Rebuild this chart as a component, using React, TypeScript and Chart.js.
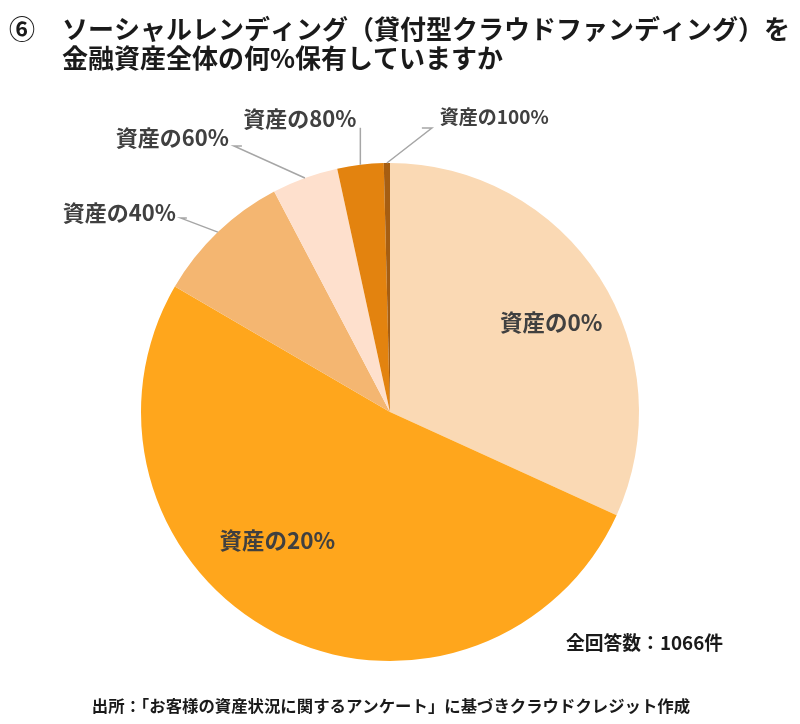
import React, { useEffect, useRef } from "react";
import { Chart, registerables } from "chart.js";

Chart.register(...registerables);

const categories = ["資産の0%", "資産の20%", "資産の40%", "資産の60%", "資産の80%", "資産の100%"];
const shares = [31.8, 51.6, 8.9, 4.3, 3.0, 0.4];
const colors = ["#FAD9B4", "#FFA61C", "#F4B671", "#FEE0CD", "#E3830F", "#A65E12"];
const titleLines = ["ソーシャルレンディング（貸付型クラウドファンディング）を", "金融資産全体の何%保有していますか"];
const titleMark = "⑥";
const totalNote = "全回答数：1066件";
const sourceNote = "出所：「お客様の資産状況に関するアンケート」に基づきクラウドクレジット作成";

const FONT = '"Noto Sans CJK JP", "Noto Sans", sans-serif';

// label layout: offsets relative to the outer-edge point at each slice's mid angle
type LabelSpec = {
  size: number;
  align: CanvasTextAlign;
  dx: number;
  dy: number;
  leader?: { ex: number; ey: number; hx: number; hy: number };
};
const labelSpecs: LabelSpec[] = [
  { size: 22.5, align: "center", dx: 0, dy: 0 },
  { size: 22.5, align: "center", dx: 0, dy: 0 },
  { size: 22, align: "right", dx: -42, dy: -19, leader: { ex: -31, ey: -14, hx: -37, hy: -14 } },
  { size: 22, align: "right", dx: -76, dy: -40, leader: { ex: -63, ey: -32, hx: -71, hy: -32 } },
  { size: 22, align: "right", dx: -4, dy: -46, leader: { ex: 0, ey: -37, hx: 0, hy: -37 } },
  { size: 19, align: "left", dx: 53, dy: -46, leader: { ex: 35, ey: -35, hx: 45, hy: -35 } },
];
// inside label positions (fraction of radius along mid angle + offsets)
const insideSpecs = [
  { frac: 0.77, dx: 0, dy: 14 },
  { frac: 0.6, dx: -44, dy: -4 },
];

const textPlugin = {
  id: "texts",
  afterDraw(chart: any) {
    const ctx = chart.ctx as CanvasRenderingContext2D;
    ctx.save();
    ctx.fillStyle = "#1a1a1a";
    ctx.textBaseline = "middle";
    ctx.textAlign = "left";
    ctx.font = `bold 26px ${FONT}`;
    ctx.fillText(titleMark, 9, 29);
    ctx.fillText(titleLines[0], 62, 29);
    ctx.fillText(titleLines[1], 62, 58);

    const meta = chart.getDatasetMeta(0);
    meta.data.forEach((arc: any, i: number) => {
      const p = arc.getProps(["x", "y", "startAngle", "endAngle", "outerRadius"], true);
      const mid = (p.startAngle + p.endAngle) / 2;
      const spec = labelSpecs[i];
      ctx.fillStyle = "#404040";
      ctx.font = `bold ${spec.size}px ${FONT}`;
      ctx.textAlign = spec.align;
      ctx.textBaseline = "middle";
      if (i < insideSpecs.length) {
        const s = insideSpecs[i];
        const r = p.outerRadius * s.frac;
        const x = p.x + Math.cos(mid) * r + s.dx;
        const y = p.y + Math.sin(mid) * r + s.dy;
        ctx.fillText(categories[i], x, y);
      } else {
        const ex = p.x + Math.cos(mid) * p.outerRadius;
        const ey = p.y + Math.sin(mid) * p.outerRadius;
        if (spec.leader) {
          ctx.strokeStyle = "#A6A6A6";
          ctx.lineWidth = 1.5;
          ctx.beginPath();
          ctx.moveTo(ex, ey);
          ctx.lineTo(ex + spec.leader.hx, ey + spec.leader.hy);
          ctx.lineTo(ex + spec.leader.ex, ey + spec.leader.ey);
          ctx.stroke();
        }
        ctx.fillText(categories[i], ex + spec.dx, ey + spec.dy);
      }
    });

    ctx.fillStyle = "#1a1a1a";
    ctx.textAlign = "left";
    ctx.font = `bold 18.8px ${FONT}`;
    ctx.fillText(totalNote, 566, 643);
    ctx.font = `bold 16.4px ${FONT}`;
    ctx.textAlign = "center";
    ctx.fillText(sourceNote, 391, 706);
    ctx.restore();
  },
};

export default function App() {
  const ref = useRef<HTMLCanvasElement>(null);
  useEffect(() => {
    if (!ref.current) return;
    const chart = new Chart(ref.current, {
      type: "pie",
      data: {
        labels: categories,
        datasets: [
          {
            data: shares,
            backgroundColor: colors,
            borderWidth: 0,
          },
        ],
      },
      options: {
        responsive: false,
        animation: false,
        layout: { padding: { left: 141, right: 161, top: 163, bottom: 63 } },
        plugins: {
          legend: { display: false },
          tooltip: { enabled: false },
          title: { display: false },
        },
      },
      plugins: [textPlugin],
    });
    return () => chart.destroy();
  }, []);
  return (
    <div style={{ position: "absolute", left: 0, top: 0, width: 800, height: 724, background: "#fff" }}>
      <canvas ref={ref} width={800} height={724} />
    </div>
  );
}
